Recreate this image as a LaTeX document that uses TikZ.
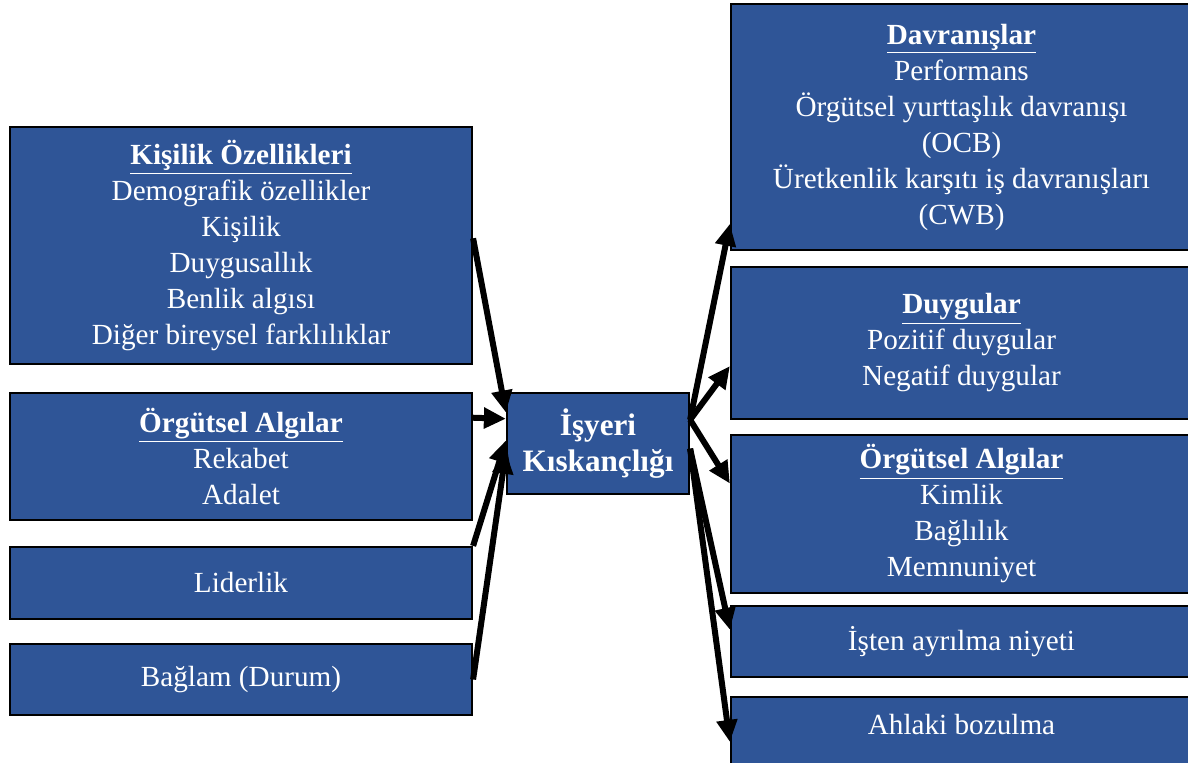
\documentclass[tikz,border=0pt]{standalone}
\usepackage{fontspec}
\setmainfont{Liberation Serif}
\usetikzlibrary{arrows.meta,calc}
\definecolor{boxblue}{RGB}{47,85,151}

\begin{document}
\begin{tikzpicture}[x=0.5pt,y=-0.5pt,
 font=\fontsize{14.6}{18}\selectfont,
 box/.style={draw=black,line width=1.1pt,fill=boxblue,text=white,align=center,inner sep=0pt},
 lbox/.style={box,minimum width=231pt},
 rbox/.style={box,minimum width=230.5pt},
 arr/.style={-{Triangle[length=11pt,width=10pt]},line width=3pt,draw=black}]
\useasboundingbox (0,0) rectangle (1188,763);
\clip (0,0) rectangle (1188,763);
% causes
\node[lbox,minimum height=118.5pt] (kisilik) at (241,245.5) {\underline{\textbf{Kişilik Özellikleri}}\\Demografik özellikler\\Kişilik\\Duygusallık\\Benlik algısı\\Diğer bireysel farklılıklar};
\node[lbox,minimum height=63.5pt] (orgalgi) at (241,456.5) {\underline{\textbf{Örgütsel Algılar}}\\Rekabet\\Adalet};
\node[lbox,minimum height=36pt] (liderlik) at (241,583) {Liderlik};
\node[lbox,minimum height=35.5pt] (baglam) at (241,679.5) {Bağlam (Durum)};
% centre
\node[box,minimum width=91pt,minimum height=50.5pt,font=\fontsize{15.6}{18}\selectfont\bfseries] (isyeri) at (598,443.5) {İşyeri\\Kıskançlığı};
% outcomes
\node[rbox,minimum height=123pt] (davranis) at (961.5,127) {\underline{\textbf{Davranışlar}}\\Performans\\Örgütsel yurttaşlık davranışı\\(OCB)\\Üretkenlik karşıtı iş davranışları\\(CWB)};
\node[rbox,minimum height=76pt] (duygular) at (961.5,343) {\underline{\textbf{Duygular}}\\Pozitif duygular\\Negatif duygular};
\node[rbox,minimum height=79pt] (orgsonuc) at (961.5,514) {\underline{\textbf{Örgütsel Algılar}}\\Kimlik\\Bağlılık\\Memnuniyet};
\node[rbox,minimum height=35.5pt] (isten) at (961.5,641.5) {İşten ayrılma niyeti};
\node[rbox,anchor=north,inner ysep=8.75pt,text depth=40pt] (ahlaki) at (961.5,696) {Ahlaki bozulma};
% arrows in
\draw[arr] ($(kisilik.north east)!0.47!(kisilik.south east)$) -- ($(isyeri.north west)!0.2!(isyeri.south west)$);
\draw[arr] ($(orgalgi.north east)!0.2!(orgalgi.south east)$) -- ($(isyeri.north west)!0.26!(isyeri.south west)$);
\draw[arr] (liderlik.north east) -- ($(isyeri.north west)!0.47!(isyeri.south west)$);
\draw[arr] (baglam.east) -- ($(isyeri.north west)!0.58!(isyeri.south west)$);
% arrows out
\foreach \s/\b/\f in {0.27/davranis/0.89,0.27/duygular/0.65,0.27/orgsonuc/0.31,0.55/isten/0.34}
 \draw[arr] ($(isyeri.north east)!\s!(isyeri.south east)$) -- ($(\b.north west)!\f!(\b.south west)$);
\draw[arr] ($(isyeri.north east)!0.55!(isyeri.south east)$) -- ([yshift=-23pt]ahlaki.north west);
\end{tikzpicture}
\end{document}
